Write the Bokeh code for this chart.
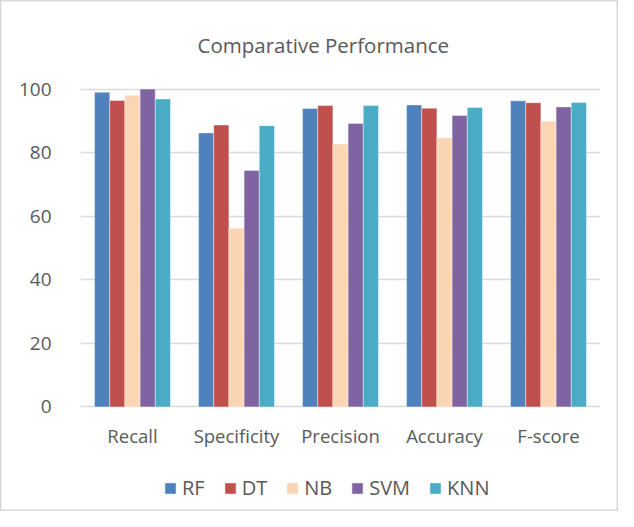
from bokeh.plotting import figure
from bokeh.layouts import column
from bokeh.models import ColumnDataSource, FactorRange, Range1d, Legend, LegendItem, FixedTicker
from bokeh.transform import dodge
from bokeh.embed import file_html
from bokeh.resources import INLINE

categories = ["Recall", "Specificity", "Precision", "Accuracy", "F-score"]
models = ["RF", "DT", "NB", "SVM", "KNN"]
rf = [99.0, 86.2, 93.9, 95.0, 96.3]
dt = [96.4, 88.7, 94.8, 94.0, 95.7]
nb = [98.1, 56.2, 82.7, 84.7, 89.9]
svm = [100.0, 74.4, 89.2, 91.7, 94.4]
knn = [96.9, 88.5, 94.8, 94.2, 95.8]
colors = ["#4F81BD", "#C0504D", "#FCD5B5", "#8064A2", "#4BACC6"]
y_ticks = [0, 20, 40, 60, 80, 100]

source = ColumnDataSource(dict(cat=categories, RF=rf, DT=dt, NB=nb, SVM=svm, KNN=knn))

FONT = "Open Sans"
TXT = "#595959"

p = figure(x_range=FactorRange(*categories, range_padding=0), y_range=Range1d(-0.5, 100.5),
           width=618, height=460, output_backend="svg", toolbar_location=None,
           title="Comparative Performance",
           min_border_left=80, min_border_right=18, min_border_top=86, min_border_bottom=52)
p.border_fill_color = None

bw = 0.146
offsets = [-2 * bw, -bw, 0, bw, 2 * bw]
for m, c, off in zip(models, colors, offsets):
    p.vbar(x=dodge("cat", off, range=p.x_range), top=m, width=bw, source=source,
           fill_color=c, line_color="white", line_alpha=0.5, line_width=0.8)

p.title.align = "left"
p.title.offset = 117
p.title.text_font = FONT
p.title.text_font_size = "20.5px"
p.title.text_font_style = "normal"
p.title.text_color = TXT
p.title.standoff = 57

p.outline_line_color = None
p.xgrid.grid_line_color = None
p.ygrid.grid_line_color = "#D9D9D9"
p.ygrid.grid_line_width = 1.6
p.yaxis.ticker = FixedTicker(ticks=y_ticks)

for ax in (p.xaxis, p.yaxis):
    ax.axis_line_color = None
    ax.major_tick_line_color = None
    ax.minor_tick_line_color = None
    ax.major_label_text_font = FONT
    ax.major_label_text_color = TXT
p.xaxis.major_label_text_font_size = "18.5px"
p.yaxis.major_label_text_font_size = "19px"
p.yaxis.major_label_standoff = 23
p.xaxis.major_label_standoff = 8

# legend strip below the chart (its bars lie outside its visible range)
p2 = figure(width=618, height=51, output_backend="svg", toolbar_location=None,
            x_range=FactorRange(*categories), y_range=Range1d(1000, 1001),
            x_axis_location=None, y_axis_location=None,
            min_border_left=80, min_border_right=18, min_border_top=0, min_border_bottom=0)
p2.border_fill_color = None
p2.background_fill_color = None
p2.outline_line_color = None
p2.grid.grid_line_color = None
items = []
for m, c in zip(models, colors):
    r = p2.vbar(x="cat", top=m, width=0.1, source=source,
                fill_color=c, line_color="white", line_alpha=0.5)
    items.append(LegendItem(label=m, renderers=[r]))
legend = Legend(items=items, orientation="horizontal", location=(83, 10),
                label_text_font=FONT, label_text_font_size="20px", label_text_color=TXT,
                glyph_width=14, glyph_height=14, spacing=18, label_standoff=5,
                border_line_color=None, background_fill_alpha=0, padding=0, margin=0)
p2.add_layout(legend, "center")

layout = column(p, p2, spacing=0)
layout.styles = {"box-shadow": "inset 0 0 0 1.5px #D9D9D9", "background": "white"}

open("out.html", "w").write(file_html(layout, INLINE))
